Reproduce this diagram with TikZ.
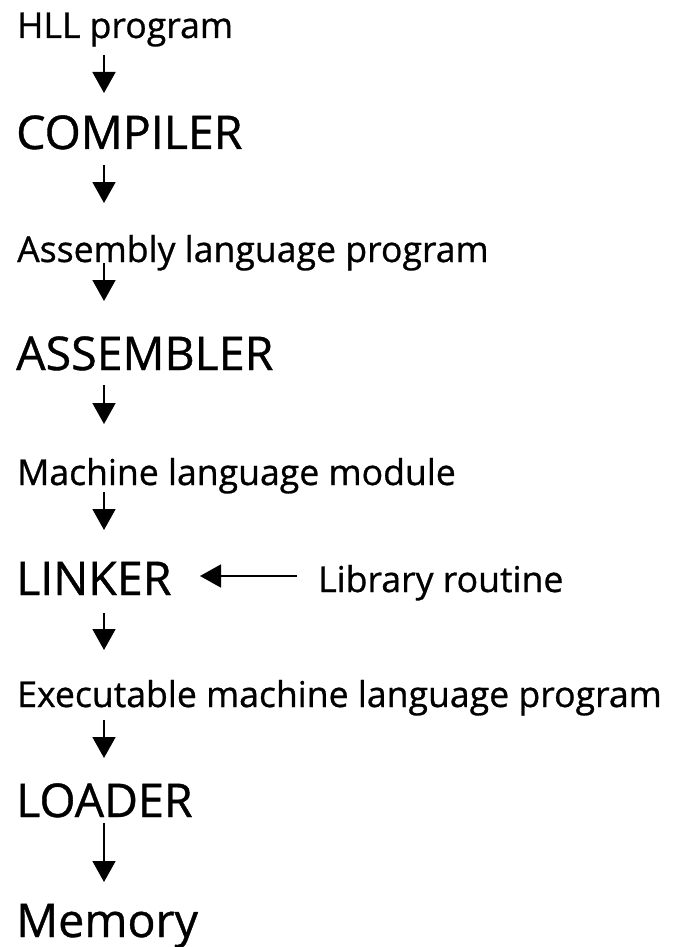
\documentclass[tikz,border=0pt]{standalone}
\usepackage{fontspec}
\setmainfont{Open Sans}[FakeBold=0.8]
\usetikzlibrary{arrows.meta,calc}
\begin{document}
\begin{tikzpicture}[x=1pt,y=-1pt,
  small/.style={anchor=base west,inner sep=0pt,font=\fontsize{35.6}{42}\selectfont},
  big/.style={anchor=base west,inner sep=0pt,font=\fontsize{46.5}{54}\selectfont},
  flow/.style={line width=1.7pt,-{Triangle[width=23pt,length=21pt]}}]
\useasboundingbox (0,0) rectangle (678,947);
% stages of the tool chain, top to bottom
\node[small] (hll)  at (17,38)  {HLL program};
\node[big]   (comp) at (16,149) {COMPILER};
\node[small] (asm)  at (17,262) {Assembly language program};
\node[big]   (asmb) at (16,370) {ASSEMBLER};
\node[small] (mod)  at (17,485) {Machine language module};
\node[big]   (link) at (16,595) {LINKER};
\node[small] (lib)  at (318,592) {Library routine};
\node[small] (exe)  at (17,707) {Executable machine language program};
\node[big]   (load) at (16,817) {LOADER};
\node[big]   (mem)  at (16,937) {Memory};
% downward flow arrows
\draw[flow] ($(hll.base west)+(87,17)$)  -- ($(comp.base west)+(88,-56)$);
\draw[flow] ($(comp.base west)+(88,16)$) -- ($(asm.base west)+(87,-59)$);
\draw[flow] ($(asm.base west)+(87,1)$)   -- ($(asmb.base west)+(88,-69)$);
\draw[flow] ($(asmb.base west)+(88,15)$) -- ($(mod.base west)+(87,-61)$);
\draw[flow] ($(mod.base west)+(87,7)$)   -- ($(link.base west)+(88,-65)$);
\draw[flow] ($(link.base west)+(88,18)$) -- ($(exe.base west)+(87,-57)$);
\draw[flow] ($(exe.base west)+(87,13)$)  -- ($(load.base west)+(88,-59)$);
\draw[flow] ($(load.base west)+(88,6)$)  -- ($(mem.base west)+(88,-55)$);
% library routines feed the linker
\draw[flow] ($(lib.base west)+(-21,-16)$) -- ($(link.base west)+(184,-19)$);
\end{tikzpicture}
\end{document}
